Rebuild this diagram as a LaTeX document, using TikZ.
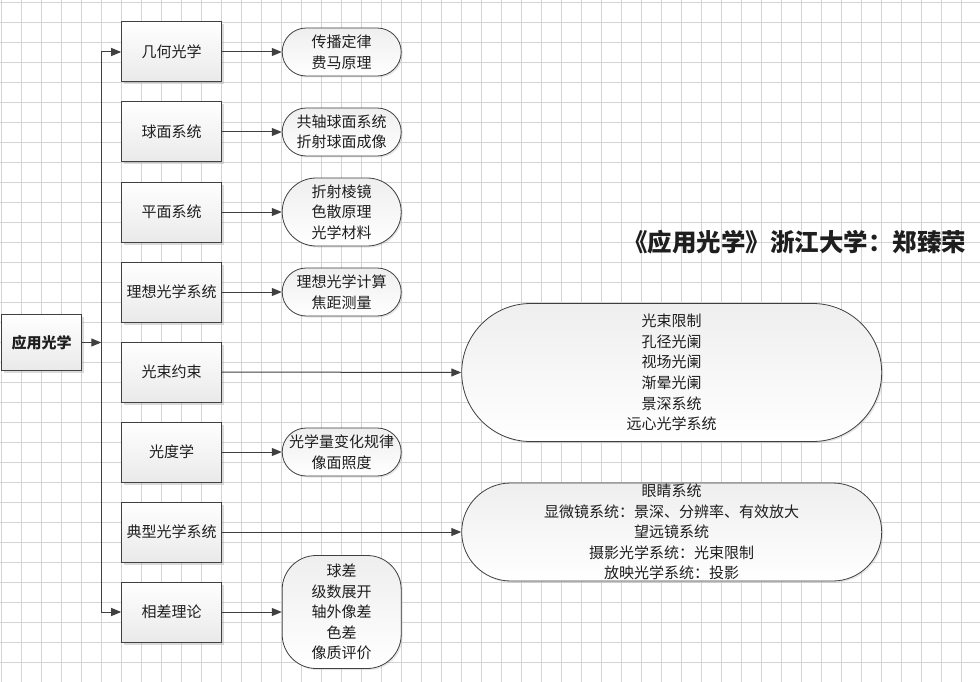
\documentclass[tikz,border=0pt]{standalone}
\usepackage{fontspec}
\setmainfont{Noto Sans CJK SC}
\usetikzlibrary{arrows.meta,shadows}
\definecolor{gridline}{HTML}{D4D4D4}
\definecolor{edge}{HTML}{404040}
\definecolor{ink}{HTML}{1E1E1E}
\begin{document}
\begin{tikzpicture}[x=1pt,y=-1pt,
  every node/.style={font=\fontsize{15}{20.6}\selectfont, text=ink},
  topic/.style={draw=edge, line width=1pt, rectangle,
    minimum width=100pt, minimum height=60pt, inner sep=0pt,
    top color=white, bottom color=gray!17,
    drop shadow={shadow xshift=2.5pt, shadow yshift=-2.5pt, opacity=0.35, fill=gray!80}},
  pill/.style={draw=edge, line width=0.8pt, rectangle, rounded corners=#1,
    inner sep=0pt, top color=gray!13, bottom color=white,
    drop shadow={shadow xshift=1.5pt, shadow yshift=-1.5pt, opacity=0.25, fill=gray!80}},
  txt/.style={align=center, inner sep=0pt},
  arr/.style={draw=edge, line width=1pt, -{Triangle[length=10pt,width=8pt]}}
]
\useasboundingbox (0,0) rectangle (980,682);
\fill[white] (0,0) rectangle (980,682);

% background grid
\foreach \k in {0,...,48}
  \draw[gridline, line width=0.9pt] (1.3+20*\k,0) -- (1.3+20*\k,682);
\foreach \k in {0,...,33}
  \draw[gridline, line width=0.9pt] (0,2.7+20*\k) -- (980,2.7+20*\k);

% root
\node[topic, minimum width=80pt, minimum height=56pt, font=\fontsize{15}{20}\selectfont\bfseries]
  (root) at (41.7,342.5) {应用光学};
\coordinate (hub) at (101.3,342.5);

% topics
\node[topic] (b1) at (171.7,52)  {几何光学};
\node[topic] (b2) at (171.7,132) {球面系统};
\node[topic] (b3) at (171.7,212) {平面系统};
\node[topic] (b4) at (171.7,292) {理想光学系统};
\node[topic] (b5) at (171.7,372) {光束约束};
\node[topic] (b6) at (171.7,452) {光度学};
\node[topic] (b7) at (171.7,532) {典型光学系统};
\node[topic] (b8) at (171.7,612) {相差理论};

% detail pills
\node[pill=24pt, minimum width=119pt, minimum height=48pt] (p1) at (341.7,52) {};
\node[pill=24pt, minimum width=119pt, minimum height=48pt] (p2) at (341.7,132) {};
\node[pill=34pt, minimum width=119pt, minimum height=68pt] (p3) at (341.7,212) {};
\node[pill=24pt, minimum width=119pt, minimum height=48pt] (p4) at (341.7,292) {};
\node[pill=69pt, minimum width=420pt, minimum height=138pt] (p5) at (671.7,372.5) {};
\node[pill=24pt, minimum width=119pt, minimum height=48pt] (p6) at (341.7,452) {};
\node[pill=49pt, minimum width=420pt, minimum height=98pt] (p7) at (671.7,532) {};
\node[pill=34pt, minimum width=119pt, minimum height=113pt] (p8) at (341.7,612) {};

\node[txt] (t1) at (p1) {传播定律\\费马原理};
\node[txt] (t2) at (p2) {共轴球面系统\\折射球面成像};
\node[txt] (t3) at (p3) {折射棱镜\\色散原理\\光学材料};
\node[txt] (t4) at (p4) {理想光学计算\\焦距测量};
\node[txt] (t5) at (p5) {光束限制\\孔径光阑\\视场光阑\\渐晕光阑\\景深系统\\远心光学系统};
\node[txt] (t6) at (p6) {光学量变化规律\\像面照度};
\node[txt] (t7) at (p7) {眼睛系统\\显微镜系统：景深、分辨率、有效放大\\望远镜系统\\摄影光学系统：光束限制\\放映光学系统：投影};
\node[txt] (t8) at (p8) {球差\\级数展开\\轴外像差\\色差\\像质评价};

% title
\node[font=\fontsize{24.5}{28}\selectfont\bfseries, inner sep=0pt] (title) at (794.5,242)
  {《应用光学》浙江大学：郑臻荣};

% connectors
\draw[arr] (root.east) -- (hub);
\draw[arr] (hub) |- (b1.west);
\draw[arr] (hub) |- (b8.west);
\foreach \i in {1,...,8}
  \draw[arr] (b\i.east) -- (p\i.west);
\end{tikzpicture}
\end{document}
